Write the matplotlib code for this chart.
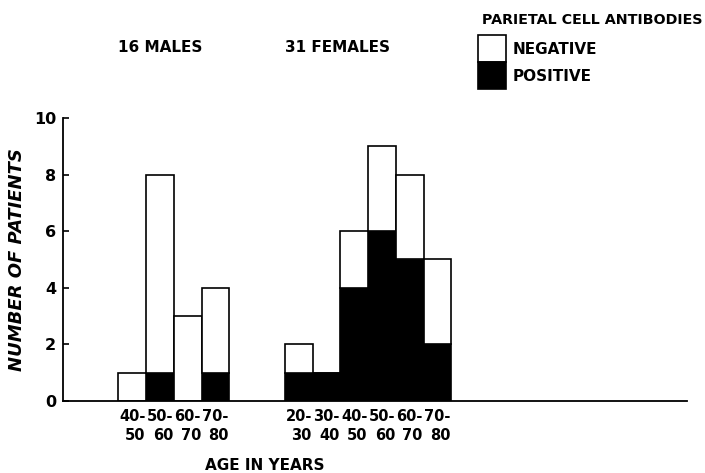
import matplotlib
matplotlib.use("Agg")
import matplotlib.pyplot as plt
import numpy as np

# Data
male_bins = ["40-\n50", "50-\n60", "60-\n70", "70-\n80"]
male_total = [1, 8, 3, 4]
male_positive = [0, 1, 0, 1]

female_bins = ["20-\n30", "30-\n40", "40-\n50", "50-\n60", "60-\n70", "70-\n80"]
female_total = [2, 1, 6, 9, 8, 5]
female_positive = [1, 1, 4, 6, 5, 2]

y_ticks = [0, 2, 4, 6, 8, 10]

plt.rcParams['font.family'] = ['DejaVu Sans']

fig = plt.figure(figsize=(7.05, 4.73), dpi=100)
ax = fig.add_axes([63/705, 72/473, (687-63)/705, (401-118)/473])

male_x = np.arange(len(male_bins)) + 2.5
female_x = np.arange(len(female_bins)) + 8.5

lw = 1.2
for xs, tot, pos in [(male_x, male_total, male_positive), (female_x, female_total, female_positive)]:
    pos = np.array(pos)
    neg = np.array(tot) - pos
    ax.bar(xs, pos, width=1.0, color='black', edgecolor='black', linewidth=lw, zorder=2)
    ax.bar(xs, neg, bottom=pos, width=1.0, color='white', edgecolor='black', linewidth=lw, zorder=2)

ax.set_xlim(0, 22.5)
ax.set_ylim(0, 10)
for s in ['top', 'right']:
    ax.spines[s].set_visible(False)
for s in ['left', 'bottom']:
    ax.spines[s].set_linewidth(1.3)

ax.set_yticks(y_ticks)
ax.set_yticklabels([str(v) for v in y_ticks], fontsize=11.5, fontweight='bold')
ax.tick_params(axis='y', direction='in', length=4, width=1.2, pad=5)

ax.set_xticks(list(male_x) + list(female_x))
xl = ax.set_xticklabels(male_bins + female_bins, fontsize=10.5, fontweight='bold', linespacing=1.3)
for t in xl:
    t.set_multialignment('right')
ax.tick_params(axis='x', length=0, pad=6)

ax.set_xlabel("AGE IN YEARS", fontsize=11, fontweight='bold')
ax.xaxis.set_label_coords((265-63)/(687-63), -0.2)
ax.set_ylabel("NUMBER OF PATIENTS", fontsize=13, fontweight='bold', style='italic')
ax.yaxis.set_label_coords((26-63)/(687-63), 0.5)

# top annotations
fig.text(118/705, 1-48/473, "16 MALES", fontsize=11, fontweight='bold', va='center', ha='left')
fig.text(285/705, 1-48/473, "31 FEMALES", fontsize=11, fontweight='bold', va='center', ha='left')
fig.text(702/705, 1-20/473, "PARIETAL CELL ANTIBODIES", fontsize=10.3, fontweight='bold', va='center', ha='right')

# legend boxes
from matplotlib.patches import Rectangle
fig.patches.append(Rectangle((478/705, 1-62/473), 28/705, 27/473, transform=fig.transFigure,
                             facecolor='white', edgecolor='black', linewidth=1.2))
fig.patches.append(Rectangle((478/705, 1-89/473), 28/705, 27/473, transform=fig.transFigure,
                             facecolor='black', edgecolor='black', linewidth=1.2))
fig.text(513/705, 1-49/473, "NEGATIVE", fontsize=11, fontweight='bold', va='center', ha='left')
fig.text(513/705, 1-76/473, "POSITIVE", fontsize=11, fontweight='bold', va='center', ha='left')

fig.savefig("out.png", dpi=100)
